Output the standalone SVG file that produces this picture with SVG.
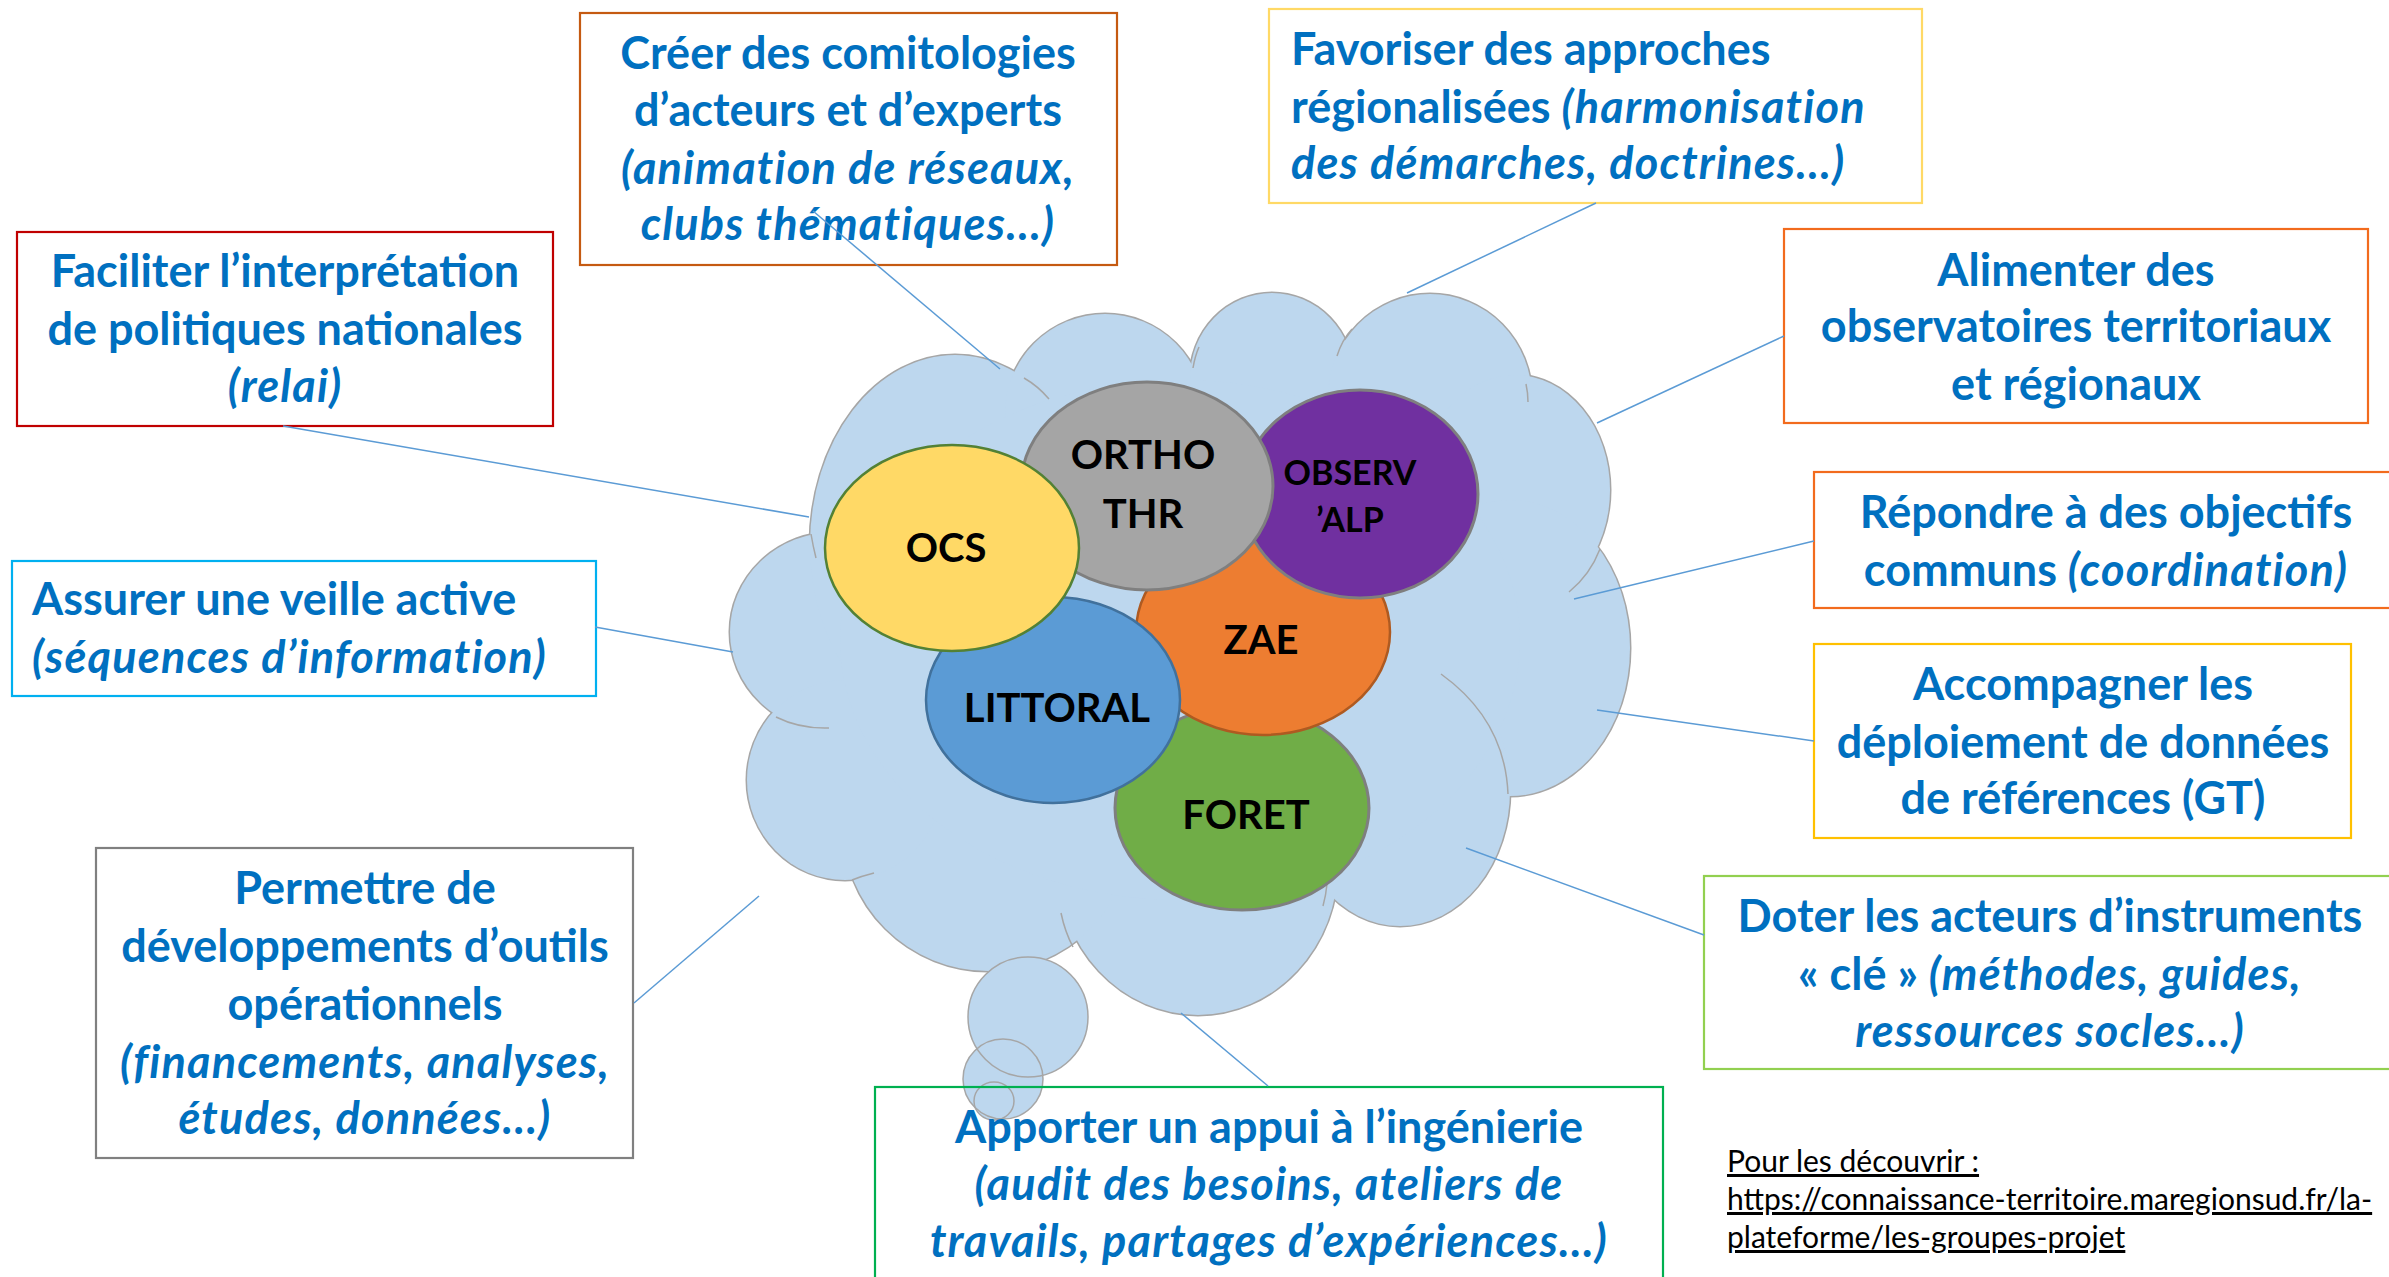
<svg xmlns="http://www.w3.org/2000/svg" width="2389" height="1277" viewBox="0 0 2389 1277">
<style>
.box{fill:none;stroke-width:2.2}
.t{font-family:Lato,"Noto Sans",sans-serif;font-weight:700;font-size:45px;fill:#0070C0}
.c{text-anchor:middle}
.i{font-style:italic;letter-spacing:1.2px}
.lbl{font-family:Lato,"Noto Sans",sans-serif;font-weight:700;font-size:40px;fill:#000;text-anchor:middle}
.conn{stroke:#5B9BD5;stroke-width:1.5;fill:none}
.ls{fill:#BDD7EE;stroke:#A6A6A6;stroke-width:3}
.lf{fill:#BDD7EE}
.cr{fill:none;stroke:#A6A6A6;stroke-width:1.5}
.foot{font-family:Lato,"Noto Sans",sans-serif;font-size:30px;fill:#000;text-decoration:underline}
</style>
<rect width="2389" height="1277" fill="#fff"/>
<g id="cloud">
  <g id="lobes-stroke" class="ls">
    <ellipse cx="835" cy="632" rx="105" ry="100"/>
    <ellipse cx="955" cy="545" rx="145" ry="190"/>
    <ellipse cx="1105" cy="414" rx="100" ry="100"/>
    <ellipse cx="1272" cy="378" rx="82" ry="85"/>
    <ellipse cx="1430" cy="398" rx="102" ry="104"/>
    <ellipse cx="1515" cy="490" rx="95" ry="115"/>
    <ellipse cx="1510" cy="648" rx="120" ry="148"/>
    <ellipse cx="1400" cy="790" rx="110" ry="136"/>
    <ellipse cx="1198" cy="865" rx="140" ry="150"/>
    <ellipse cx="988" cy="826" rx="145" ry="145"/>
    <ellipse cx="845" cy="780" rx="98" ry="100"/>
  </g>
  <g id="lobes-fill" class="lf">
    <ellipse cx="835" cy="632" rx="105" ry="100"/>
    <ellipse cx="955" cy="545" rx="145" ry="190"/>
    <ellipse cx="1105" cy="414" rx="100" ry="100"/>
    <ellipse cx="1272" cy="378" rx="82" ry="85"/>
    <ellipse cx="1430" cy="398" rx="102" ry="104"/>
    <ellipse cx="1515" cy="490" rx="95" ry="115"/>
    <ellipse cx="1510" cy="648" rx="120" ry="148"/>
    <ellipse cx="1400" cy="790" rx="110" ry="136"/>
    <ellipse cx="1198" cy="865" rx="140" ry="150"/>
    <ellipse cx="988" cy="826" rx="145" ry="145"/>
    <ellipse cx="845" cy="780" rx="98" ry="100"/>
    <ellipse cx="1180" cy="640" rx="340" ry="260"/>
  </g>
  <g id="creases" class="cr">
    <path d="M811,534 Q813,546 816,558"/>
    <path d="M776,717 Q800,729 829,728"/>
    <path d="M852,880 Q862,876 874,873"/>
    <path d="M1061,913 Q1065,932 1073,947"/>
    <path d="M1327,884 Q1326,895 1323,906"/>
    <path d="M1441,674 Q1505,720 1508,794"/>
    <path d="M1569,592 Q1590,575 1600,549"/>
    <path d="M1526,384 Q1528,393 1528,402"/>
    <path d="M1337,356 Q1342,340 1352,329"/>
    <path d="M1193,368 Q1195,356 1199,347"/>
    <path d="M1024,378 Q1038,386 1049,399"/>
  </g>
  <g id="bubbles">
    <circle cx="1028" cy="1017" r="60" class="lf"/>
    <circle cx="1003" cy="1079" r="40" class="lf"/>
    <ellipse cx="994" cy="1101" rx="20" ry="19" class="lf"/>
    <circle cx="1028" cy="1017" r="60" class="cr"/>
    <circle cx="1003" cy="1079" r="40" class="cr"/>
    <ellipse cx="994" cy="1101" rx="20" ry="19" class="cr"/>
  </g>
</g>
<g id="node-foret">
  <ellipse cx="1242" cy="808" rx="127" ry="102" fill="#70AD47" stroke="#7F7F7F" stroke-width="3"/>
  <text class="lbl" x="1246" y="829">FORET</text>
</g>
<g id="node-zae">
  <ellipse cx="1263" cy="632" rx="127" ry="103" fill="#ED7D31" stroke="#AE5A21" stroke-width="2.5"/>
  <text class="lbl" x="1261" y="654">ZAE</text>
</g>
<g id="node-littoral">
  <ellipse cx="1053" cy="700" rx="127" ry="103" fill="#5B9BD5" stroke="#41719C" stroke-width="2.5"/>
  <text class="lbl" x="1057" y="722">LITTORAL</text>
</g>
<g id="node-observalp">
  <ellipse cx="1360" cy="494" rx="118" ry="104" fill="#7030A0" stroke="#7F7F7F" stroke-width="3"/>
  <text class="lbl" x="1350" y="485" style="font-size:34px">OBSERV</text>
  <text class="lbl" x="1350" y="532" style="font-size:34px">’ALP</text>
</g>
<g id="node-ortho">
  <ellipse cx="1147" cy="486" rx="126" ry="104" fill="#A5A5A5" stroke="#7F7F7F" stroke-width="3"/>
  <text class="lbl" x="1143" y="469">ORTHO</text>
  <text class="lbl" x="1143" y="528">THR</text>
</g>
<g id="node-ocs">
  <ellipse cx="952" cy="548" rx="127" ry="103" fill="#FFD966" stroke="#538135" stroke-width="2.5"/>
  <text class="lbl" x="946" y="562">OCS</text>
</g>
<g id="box-creer">
  <rect class="box" x="580" y="13" width="537" height="252" stroke="#C55A11"/>
  <text class="t c" x="848" y="69">Créer des comitologies</text>
  <text class="t c" x="848" y="126">d’acteurs et d’experts</text>
  <text class="t c i" x="848" y="184">(animation de réseaux,</text>
  <text class="t c i" x="848" y="240">clubs thématiques…)</text>
</g>
<g id="box-faciliter">
  <rect class="box" x="17" y="232" width="536" height="194" stroke="#C00000"/>
  <text class="t c" x="285" y="287">Faciliter l’interprétation</text>
  <text class="t c" x="285" y="345">de politiques nationales</text>
  <text class="t c i" x="285" y="402">(relai)</text>
</g>
<g id="box-favoriser">
  <rect class="box" x="1269" y="9" width="653" height="194" stroke="#FFD966"/>
  <text class="t" x="1291" y="65">Favoriser des approches</text>
  <text class="t" x="1291" y="123">régionalisées <tspan class="i">(harmonisation</tspan></text>
  <text class="t i" x="1291" y="179">des démarches, doctrines…)</text>
</g>
<g id="box-alimenter">
  <rect class="box" x="1784" y="229" width="584" height="194" stroke="#F26B1D"/>
  <text class="t c" x="2076" y="286">Alimenter des</text>
  <text class="t c" x="2076" y="342">observatoires territoriaux</text>
  <text class="t c" x="2076" y="400">et régionaux</text>
</g>
<g id="box-repondre">
  <rect class="box" x="1814" y="472" width="580" height="136" stroke="#F26B1D"/>
  <text class="t c" x="2106" y="528">Répondre à des objectifs</text>
  <text class="t c" x="2106" y="586">communs <tspan class="i">(coordination)</tspan></text>
</g>
<g id="box-assurer">
  <rect class="box" x="12" y="561" width="584" height="135" stroke="#00B0F0"/>
  <text class="t" x="32" y="615">Assurer une veille active</text>
  <text class="t i" x="32" y="673">(séquences d’information)</text>
</g>
<g id="box-accompagner">
  <rect class="box" x="1814" y="644" width="537" height="194" stroke="#FFC000"/>
  <text class="t c" x="2083" y="700">Accompagner les</text>
  <text class="t c" x="2083" y="758">déploiement de données</text>
  <text class="t c" x="2083" y="814">de références (GT)</text>
</g>
<g id="box-permettre">
  <rect class="box" x="96" y="848" width="537" height="310" stroke="#808080"/>
  <text class="t c" x="365" y="904">Permettre de</text>
  <text class="t c" x="365" y="962">développements d’outils</text>
  <text class="t c" x="365" y="1020">opérationnels</text>
  <text class="t c i" x="365" y="1078">(financements, analyses,</text>
  <text class="t c i" x="365" y="1134">études, données…)</text>
</g>
<g id="box-doter">
  <rect class="box" x="1704" y="876" width="690" height="193" stroke="#92D050"/>
  <text class="t c" x="2050" y="932">Doter les acteurs d’instruments</text>
  <text class="t c" x="2050" y="990">« clé » <tspan class="i">(méthodes, guides,</tspan></text>
  <text class="t c i" x="2050" y="1047">ressources socles…)</text>
</g>
<g id="box-apporter">
  <rect class="box" x="875" y="1087" width="788" height="195" stroke="#00B050"/>
  <text class="t c" x="1269" y="1143">Apporter un appui à l’ingénierie</text>
  <text class="t c i" x="1269" y="1200">(audit des besoins, ateliers de</text>
  <text class="t c i" x="1269" y="1257">travails, partages d’expériences…)</text>
</g>
<g id="footer">
  <text class="foot" x="1727" y="1172">Pour les découvrir :</text>
  <text class="foot" x="1727" y="1210">https://connaissance-territoire.maregionsud.fr/la-</text>
  <text class="foot" x="1727" y="1248">plateforme/les-groupes-projet</text>
</g>
<g id="connectors" class="conn">
  <line x1="813" y1="211" x2="1000" y2="369"/>
  <line x1="283" y1="426" x2="809" y2="517"/>
  <line x1="595" y1="627" x2="733" y2="652"/>
  <line x1="634" y1="1003" x2="759" y2="896"/>
  <line x1="1596" y1="203" x2="1407" y2="293"/>
  <line x1="1784" y1="336" x2="1597" y2="423"/>
  <line x1="1814" y1="541" x2="1574" y2="599"/>
  <line x1="1814" y1="741" x2="1597" y2="710"/>
  <line x1="1704" y1="935" x2="1466" y2="848"/>
  <line x1="1268" y1="1086" x2="1181" y2="1013"/>
</g>
</svg>
